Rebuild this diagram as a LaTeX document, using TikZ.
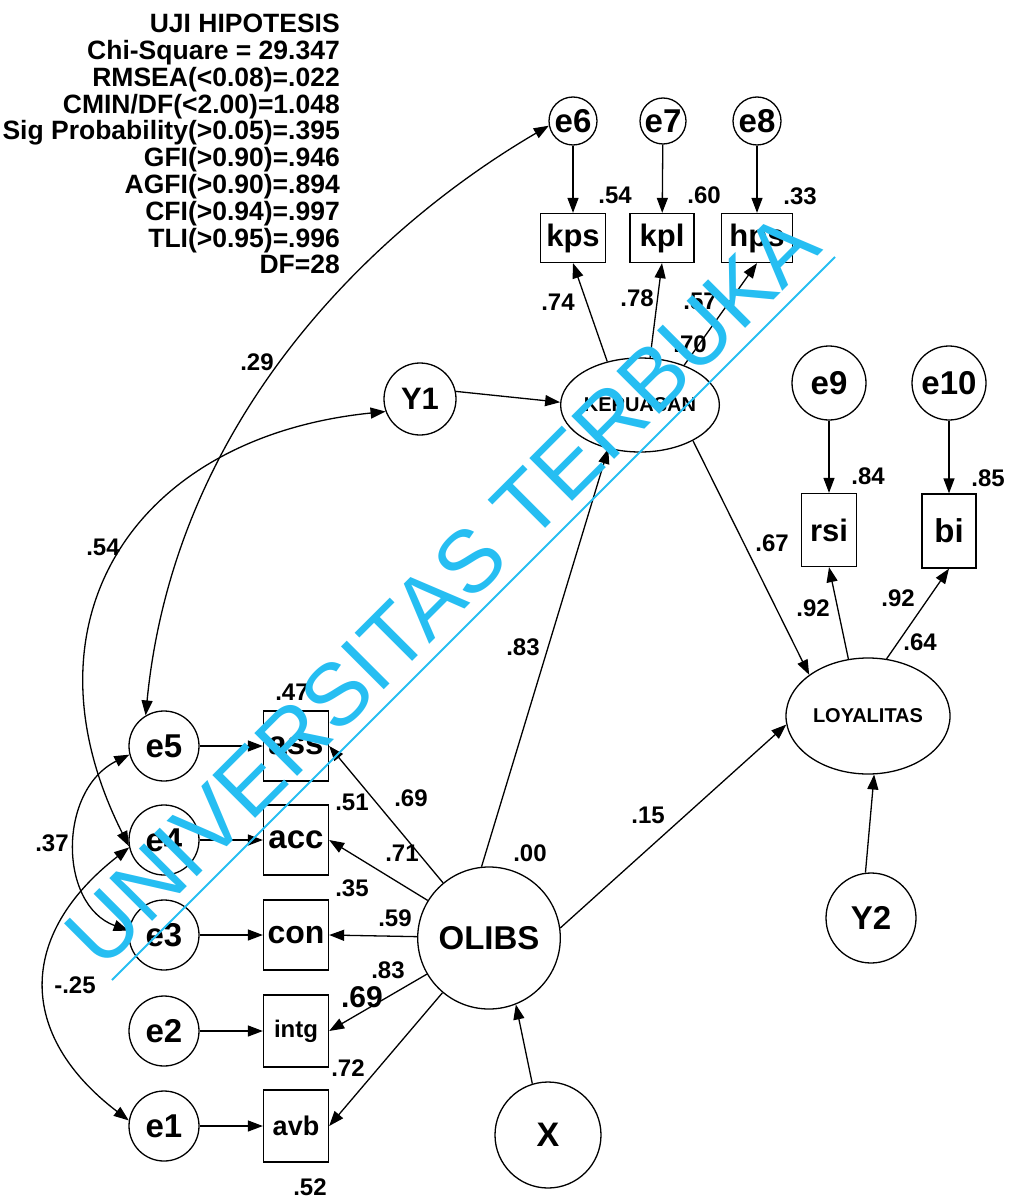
\documentclass[tikz,border=0pt]{standalone}
\usepackage{fontspec}
\setmainfont{Liberation Sans}
\usetikzlibrary{arrows.meta, shapes.geometric}
\definecolor{wmCyan}{RGB}{38,190,242}
\tikzset{
  errc/.style={circle, draw, line width=1.3pt, minimum size=#1, inner sep=0pt, font=\bfseries\fontsize{33}{33}\selectfont},
  latent/.style 2 args={ellipse, draw, line width=1.3pt, minimum width=#1, minimum height=#2, inner sep=0pt},
  obsbox/.style 2 args={rectangle, draw, line width=1.3pt, minimum width=#1, minimum height=#2, inner sep=0pt, font=\bfseries\fontsize{31}{31}\selectfont},
  lbl/.style={inner sep=0pt, font=\bfseries\fontsize{24}{24}\selectfont},
  patharrow/.style={-{Triangle[length=15pt, width=11pt]}, line width=1.3pt},
  covarrow/.style={{Triangle[length=15pt, width=11pt]}-{Triangle[length=15pt, width=11pt]}, line width=1.3pt},
}

\begin{document}
\begin{tikzpicture}[x=1pt, y=-1pt]
  \useasboundingbox (0,0) rectangle (1009,1198);

  % Fit summary
  \node[anchor=north east, align=right, inner sep=0pt, font=\bfseries\fontsize{26.5}{26.8}\selectfont] (fit) at (340,14)
    {UJI HIPOTESIS\\Chi-Square = 29.347\\RMSEA(<0.08)=.022\\CMIN/DF(<2.00)=1.048\\Sig Probability(>0.05)=.395\\GFI(>0.90)=.946\\AGFI(>0.90)=.894\\CFI(>0.94)=.997\\TLI(>0.95)=.996\\DF=28};

  % KEPUASAN indicators
  \node[errc=48] (e6) at (573,121) {e6};
  \node[errc=46] (e7) at (663,121) {e7};
  \node[errc=48] (e8) at (757,121) {e8};
  \node[obsbox={65}{49}] (kps) at (573,238) {kps};
  \node[obsbox={64}{49}] (kpl) at (662,238) {kpl};
  \node[obsbox={71}{49}] (hps) at (757,238) {hps};
  \node[latent={156}{94}, font=\bfseries\fontsize{20}{20}\selectfont] (kep) at (640,405) {KEPUASAN};
  \node[errc=72, font=\bfseries\fontsize{31}{31}\selectfont] (y1) at (420,399) {Y1};

  % LOYALITAS indicators
  \node[errc=74] (e9) at (829,383) {e9};
  \node[errc=74] (e10) at (949,383) {e10};
  \node[obsbox={55}{73}] (rsi) at (829,530) {rsi};
  \node[obsbox={54}{74}, font=\bfseries\fontsize{33}{33}\selectfont] (bi) at (949,531) {bi};
  \node[latent={164}{116}, font=\bfseries\fontsize{20}{20}\selectfont] (loy) at (868,716) {LOYALITAS};
  \node[errc=90, font=\bfseries\fontsize{33}{33}\selectfont] (y2) at (871,918) {Y2};

  % OLIBS indicators
  \node[errc=70] (e5) at (164,746) {e5};
  \node[errc=70] (e4) at (164,840) {e4};
  \node[errc=70] (e3) at (164,935) {e3};
  \node[errc=70] (e2) at (164,1031) {e2};
  \node[errc=70] (e1) at (164,1126) {e1};
  \node[obsbox={65}{70}, font=\bfseries\fontsize{33}{33}\selectfont] (ass) at (296,746) {ass};
  \node[obsbox={65}{70}, font=\bfseries\fontsize{33}{33}\selectfont] (acc) at (296,840) {acc};
  \node[obsbox={65}{70}, font=\bfseries\fontsize{32}{32}\selectfont] (con) at (296,935) {con};
  \node[obsbox={65}{72}, font=\bfseries\fontsize{24}{24}\selectfont] (intg) at (296,1031) {intg};
  \node[obsbox={65}{72}, font=\bfseries\fontsize{27}{27}\selectfont] (avb) at (296,1126) {avb};
  \node[latent={132}{142}, font=\bfseries\fontsize{33}{33}\selectfont] (olibs) at (489,938) {OLIBS};
  \node[errc=106, font=\bfseries\fontsize{34}{34}\selectfont] (x) at (548,1135) {X};

  % Arrows
  \draw[patharrow] (e6) -- (kps);
  \draw[patharrow] (e7) -- (kpl);
  \draw[patharrow] (e8) -- (hps);
  \draw[patharrow] (kep.127) -- (kps.south);
  \draw[patharrow] (kep.78) -- (kpl.south);
  \draw[patharrow] (kep.42) -- (hps.south);
  \draw[patharrow] (y1.12) -- (kep.178);
  \draw[patharrow] (e9) -- (rsi);
  \draw[patharrow] (e10) -- (bi);
  \draw[patharrow] (loy.109) -- (rsi.south);
  \draw[patharrow] (loy.72) -- (bi.south);
  \draw[patharrow] (kep.-34) -- (loy.145);
  \draw[patharrow] (olibs.96) -- (kep.-126);
  \draw[patharrow] (olibs.8) -- (loy.186);
  \draw[patharrow] (y2.97) -- (loy.-84);
  \draw[patharrow] (x.107) -- (olibs.-68);
  \draw[patharrow] (e5) -- (ass);
  \draw[patharrow] (e4) -- (acc);
  \draw[patharrow] (e3) -- (con);
  \draw[patharrow] (e2) -- (intg);
  \draw[patharrow] (e1) -- (avb);
  \draw[patharrow] (olibs) -- (ass.east);
  \draw[patharrow] (olibs) -- (acc.east);
  \draw[patharrow] (olibs) -- (con.east);
  \draw[patharrow] (olibs) -- (intg.east);
  \draw[patharrow] (olibs) -- (avb.east);

  % Covariances
  \draw[covarrow] (e6.191) .. controls (379,225) and (175,414) .. (e5.121);
  \draw[covarrow] (y1.200) .. controls (135,437) and (15,620) .. (e4.190);
  \draw[covarrow] (e5.194) .. controls (58,790) and (58,905) .. (e3.173);
  \draw[covarrow] (e4.192) .. controls (17,935) and (17,1035) .. (e1.171);

  % Estimates
  \node[lbl] (l54a) at (615,195) {.54};
  \node[lbl] (l60) at (704,195) {.60};
  \node[lbl] (l33) at (800,196) {.33};
  \node[lbl] (l74) at (558,302) {.74};
  \node[lbl] (l78) at (637,298) {.78};
  \node[lbl] (l57) at (700,301) {.57};
  \node[lbl] (l70) at (690,344) {.70};
  \node[lbl] (l29) at (257,362) {.29};
  \node[lbl] (l84) at (868,476) {.84};
  \node[lbl] (l85) at (988,478) {.85};
  \node[lbl] (l67) at (772,543) {.67};
  \node[lbl] (l92a) at (813,608) {.92};
  \node[lbl] (l92b) at (898,598) {.92};
  \node[lbl] (l64) at (920,642) {.64};
  \node[lbl] (l83a) at (523,647) {.83};
  \node[lbl] (l54b) at (103,547) {.54};
  \node[lbl] (l47) at (292,692) {.47};
  \node[lbl] (l51) at (352,802) {.51};
  \node[lbl] (l69a) at (411,798) {.69};
  \node[lbl] (l71) at (402,853) {.71};
  \node[lbl] (l00) at (530,853) {.00};
  \node[lbl] (l15) at (648,815) {.15};
  \node[lbl] (l35) at (352,888) {.35};
  \node[lbl] (l37) at (52,843) {.37};
  \node[lbl] (l59) at (395,918) {.59};
  \node[lbl] (l83b) at (388,970) {.83};
  \node[lbl, font=\bfseries\fontsize{30}{30}\selectfont] (l69b) at (362,997) {.69};
  \node[lbl] (l25) at (75,985) {-.25};
  \node[lbl] (l72) at (348,1068) {.72};
  \node[lbl] (l52) at (310,1187) {.52};

  % Watermark
  \node[anchor=base west, rotate=45, inner sep=0pt, text=wmCyan, font=\fontsize{88}{88}\selectfont] (wm) at (102,972) {UNIVERSITAS TERBUKA};
  \coordinate (wmA) at (112,980);
  \coordinate (wmB) at (835,257);
  \draw[wmCyan, line width=2pt] (wmA) -- (wmB);
\end{tikzpicture}
\end{document}
